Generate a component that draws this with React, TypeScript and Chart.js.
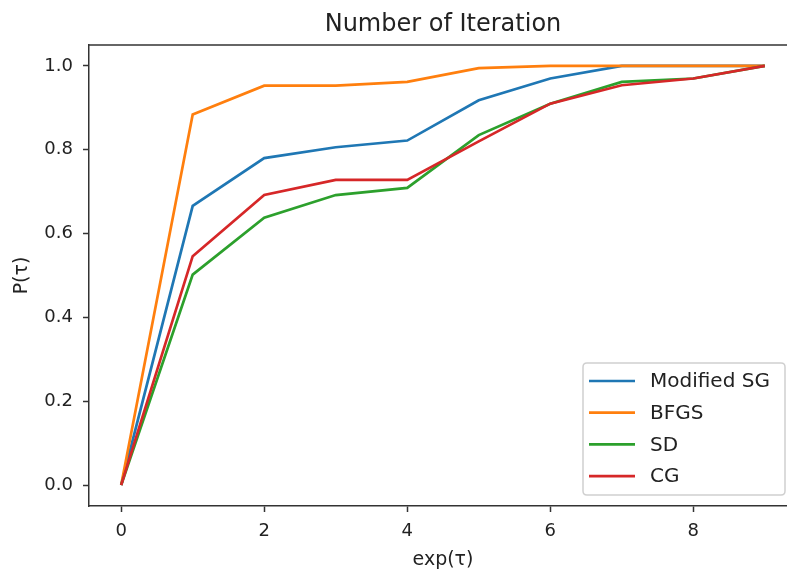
import React, { useEffect, useRef } from "react";
import { Chart, registerables } from "chart.js";

Chart.register(...registerables);

const xValues = [0, 1, 2, 3, 4, 5, 6, 7, 8, 9];
const modifiedSG = [0, 0.666, 0.78, 0.806, 0.822, 0.918, 0.97, 1.0, 1.0, 1.0];
const bfgs = [0, 0.884, 0.953, 0.953, 0.962, 0.995, 1.0, 1.0, 1.0, 1.0];
const sd = [0, 0.502, 0.638, 0.692, 0.709, 0.835, 0.91, 0.962, 0.97, 1.0];
const cg = [0, 0.546, 0.692, 0.728, 0.728, 0.82, 0.91, 0.954, 0.97, 1.0];

const seriesNames = ["Modified SG", "BFGS", "SD", "CG"];
const seriesValues = [modifiedSG, bfgs, sd, cg];
const seriesColors = ["#1f77b4", "#ff7f0e", "#2ca02c", "#d62728"];

const xTicks = [0, 2, 4, 6, 8];
const yTicks = [0, 0.2, 0.4, 0.6, 0.8, 1.0];

const titleText = "Number of Iteration";
const xLabel = "exp(τ)";
const yLabel = "P(τ)";

const FONT = "'DejaVu Sans', sans-serif";
const TEXT = "#222";
const AXIS = "#333";

const decorPlugin = {
  id: "decor",
  afterDraw(chart: any) {
    const { ctx, chartArea } = chart;
    const { left, right, top, bottom } = chartArea;
    ctx.save();
    // top spine
    ctx.strokeStyle = AXIS;
    ctx.lineWidth = 1.5;
    ctx.beginPath();
    ctx.moveTo(left, top);
    ctx.lineTo(right, top);
    ctx.stroke();

    // title
    ctx.fillStyle = TEXT;
    ctx.font = `24px ${FONT}`;
    ctx.textAlign = "center";
    ctx.textBaseline = "alphabetic";
    const cx = (left + right) / 2;
    ctx.fillText(titleText, cx, 31);

    // axis labels
    ctx.textBaseline = "middle";
    ctx.font = `19px ${FONT}`;
    ctx.fillText(xLabel, cx, 560);
    ctx.save();
    ctx.translate(22, (top + bottom) / 2);
    ctx.rotate(-Math.PI / 2);
    ctx.fillText(yLabel, 0, 0);
    ctx.restore();

    // legend
    const lw = 202;
    const lh = 132;
    const lx = right - 12 - lw;
    const ly = bottom - 11 - lh;
    ctx.fillStyle = "rgba(255,255,255,0.8)";
    ctx.strokeStyle = "#d0d0d0";
    ctx.lineWidth = 1.5;
    const r = 4;
    ctx.beginPath();
    ctx.moveTo(lx + r, ly);
    ctx.lineTo(lx + lw - r, ly);
    ctx.quadraticCurveTo(lx + lw, ly, lx + lw, ly + r);
    ctx.lineTo(lx + lw, ly + lh - r);
    ctx.quadraticCurveTo(lx + lw, ly + lh, lx + lw - r, ly + lh);
    ctx.lineTo(lx + r, ly + lh);
    ctx.quadraticCurveTo(lx, ly + lh, lx, ly + lh - r);
    ctx.lineTo(lx, ly + r);
    ctx.quadraticCurveTo(lx, ly, lx + r, ly);
    ctx.closePath();
    ctx.fill();
    ctx.stroke();

    ctx.textAlign = "left";
    ctx.font = `20px ${FONT}`;
    chart.data.datasets.forEach((ds: any, i: number) => {
      const yy = ly + 18 + i * 31.7;
      ctx.strokeStyle = ds.borderColor;
      ctx.lineWidth = 2.7;
      ctx.beginPath();
      ctx.moveTo(lx + 6, yy);
      ctx.lineTo(lx + 52, yy);
      ctx.stroke();
      ctx.fillStyle = TEXT;
      ctx.fillText(ds.label, lx + 67, yy + 1);
    });
    ctx.restore();
  },
};

export default function App() {
  const ref = useRef<HTMLCanvasElement | null>(null);
  useEffect(() => {
    if (!ref.current) return;
    const chart = new Chart(ref.current, {
      type: "line",
      data: {
        datasets: seriesNames.map((name, i) => ({
          label: name,
          data: xValues.map((x, j) => ({ x, y: seriesValues[i][j] })),
          borderColor: seriesColors[i],
          backgroundColor: seriesColors[i],
          borderWidth: 2.7,
          pointRadius: 0,
          tension: 0,
          fill: false,
          order: seriesNames.length - 1 - i,
        })),
      },
      options: {
        animation: false,
        responsive: false,
        devicePixelRatio: 1,
        layout: { padding: { left: 0, top: 45, right: 3, bottom: 0 } },
        plugins: {
          legend: { display: false },
          title: { display: false },
          tooltip: { enabled: false },
        },
        scales: {
          x: {
            type: "linear",
            min: -0.45,
            max: 9.45,
            afterBuildTicks: (s: any) => {
              s.ticks = xTicks.map((v) => ({ value: v }));
            },
            afterFit: (s: any) => {
              s.height = 67;
            },
            grid: {
              display: true,
              drawOnChartArea: false,
              drawTicks: true,
              tickLength: 6,
              tickColor: AXIS,
              tickWidth: 1.5,
            },
            border: { display: true, color: AXIS, width: 1.5 },
            ticks: {
              color: TEXT,
              font: { family: FONT, size: 18 },
              padding: 9,
              maxRotation: 0,
              callback: (v: any) => String(v),
            },
          },
          y: {
            type: "linear",
            min: -0.05,
            max: 1.05,
            afterBuildTicks: (s: any) => {
              s.ticks = yTicks.map((v) => ({ value: v }));
            },
            afterFit: (s: any) => {
              s.width = 89;
            },
            grid: {
              display: true,
              drawOnChartArea: false,
              drawTicks: true,
              tickLength: 6,
              tickColor: AXIS,
              tickWidth: 1.5,
            },
            border: { display: true, color: AXIS, width: 1.5 },
            ticks: {
              color: TEXT,
              font: { family: FONT, size: 18 },
              padding: 10,
              callback: (v: any) => Number(v).toFixed(1),
            },
          },
        },
      },
      plugins: [decorPlugin],
    } as any);
    return () => chart.destroy();
  }, []);

  return (
    <div
      style={{
        position: "fixed",
        left: 0,
        top: 0,
        width: 787,
        height: 573,
        overflow: "hidden",
        background: "#fff",
      }}
    >
      <canvas ref={ref} width={800} height={573} style={{ display: "block" }} />
    </div>
  );
}
